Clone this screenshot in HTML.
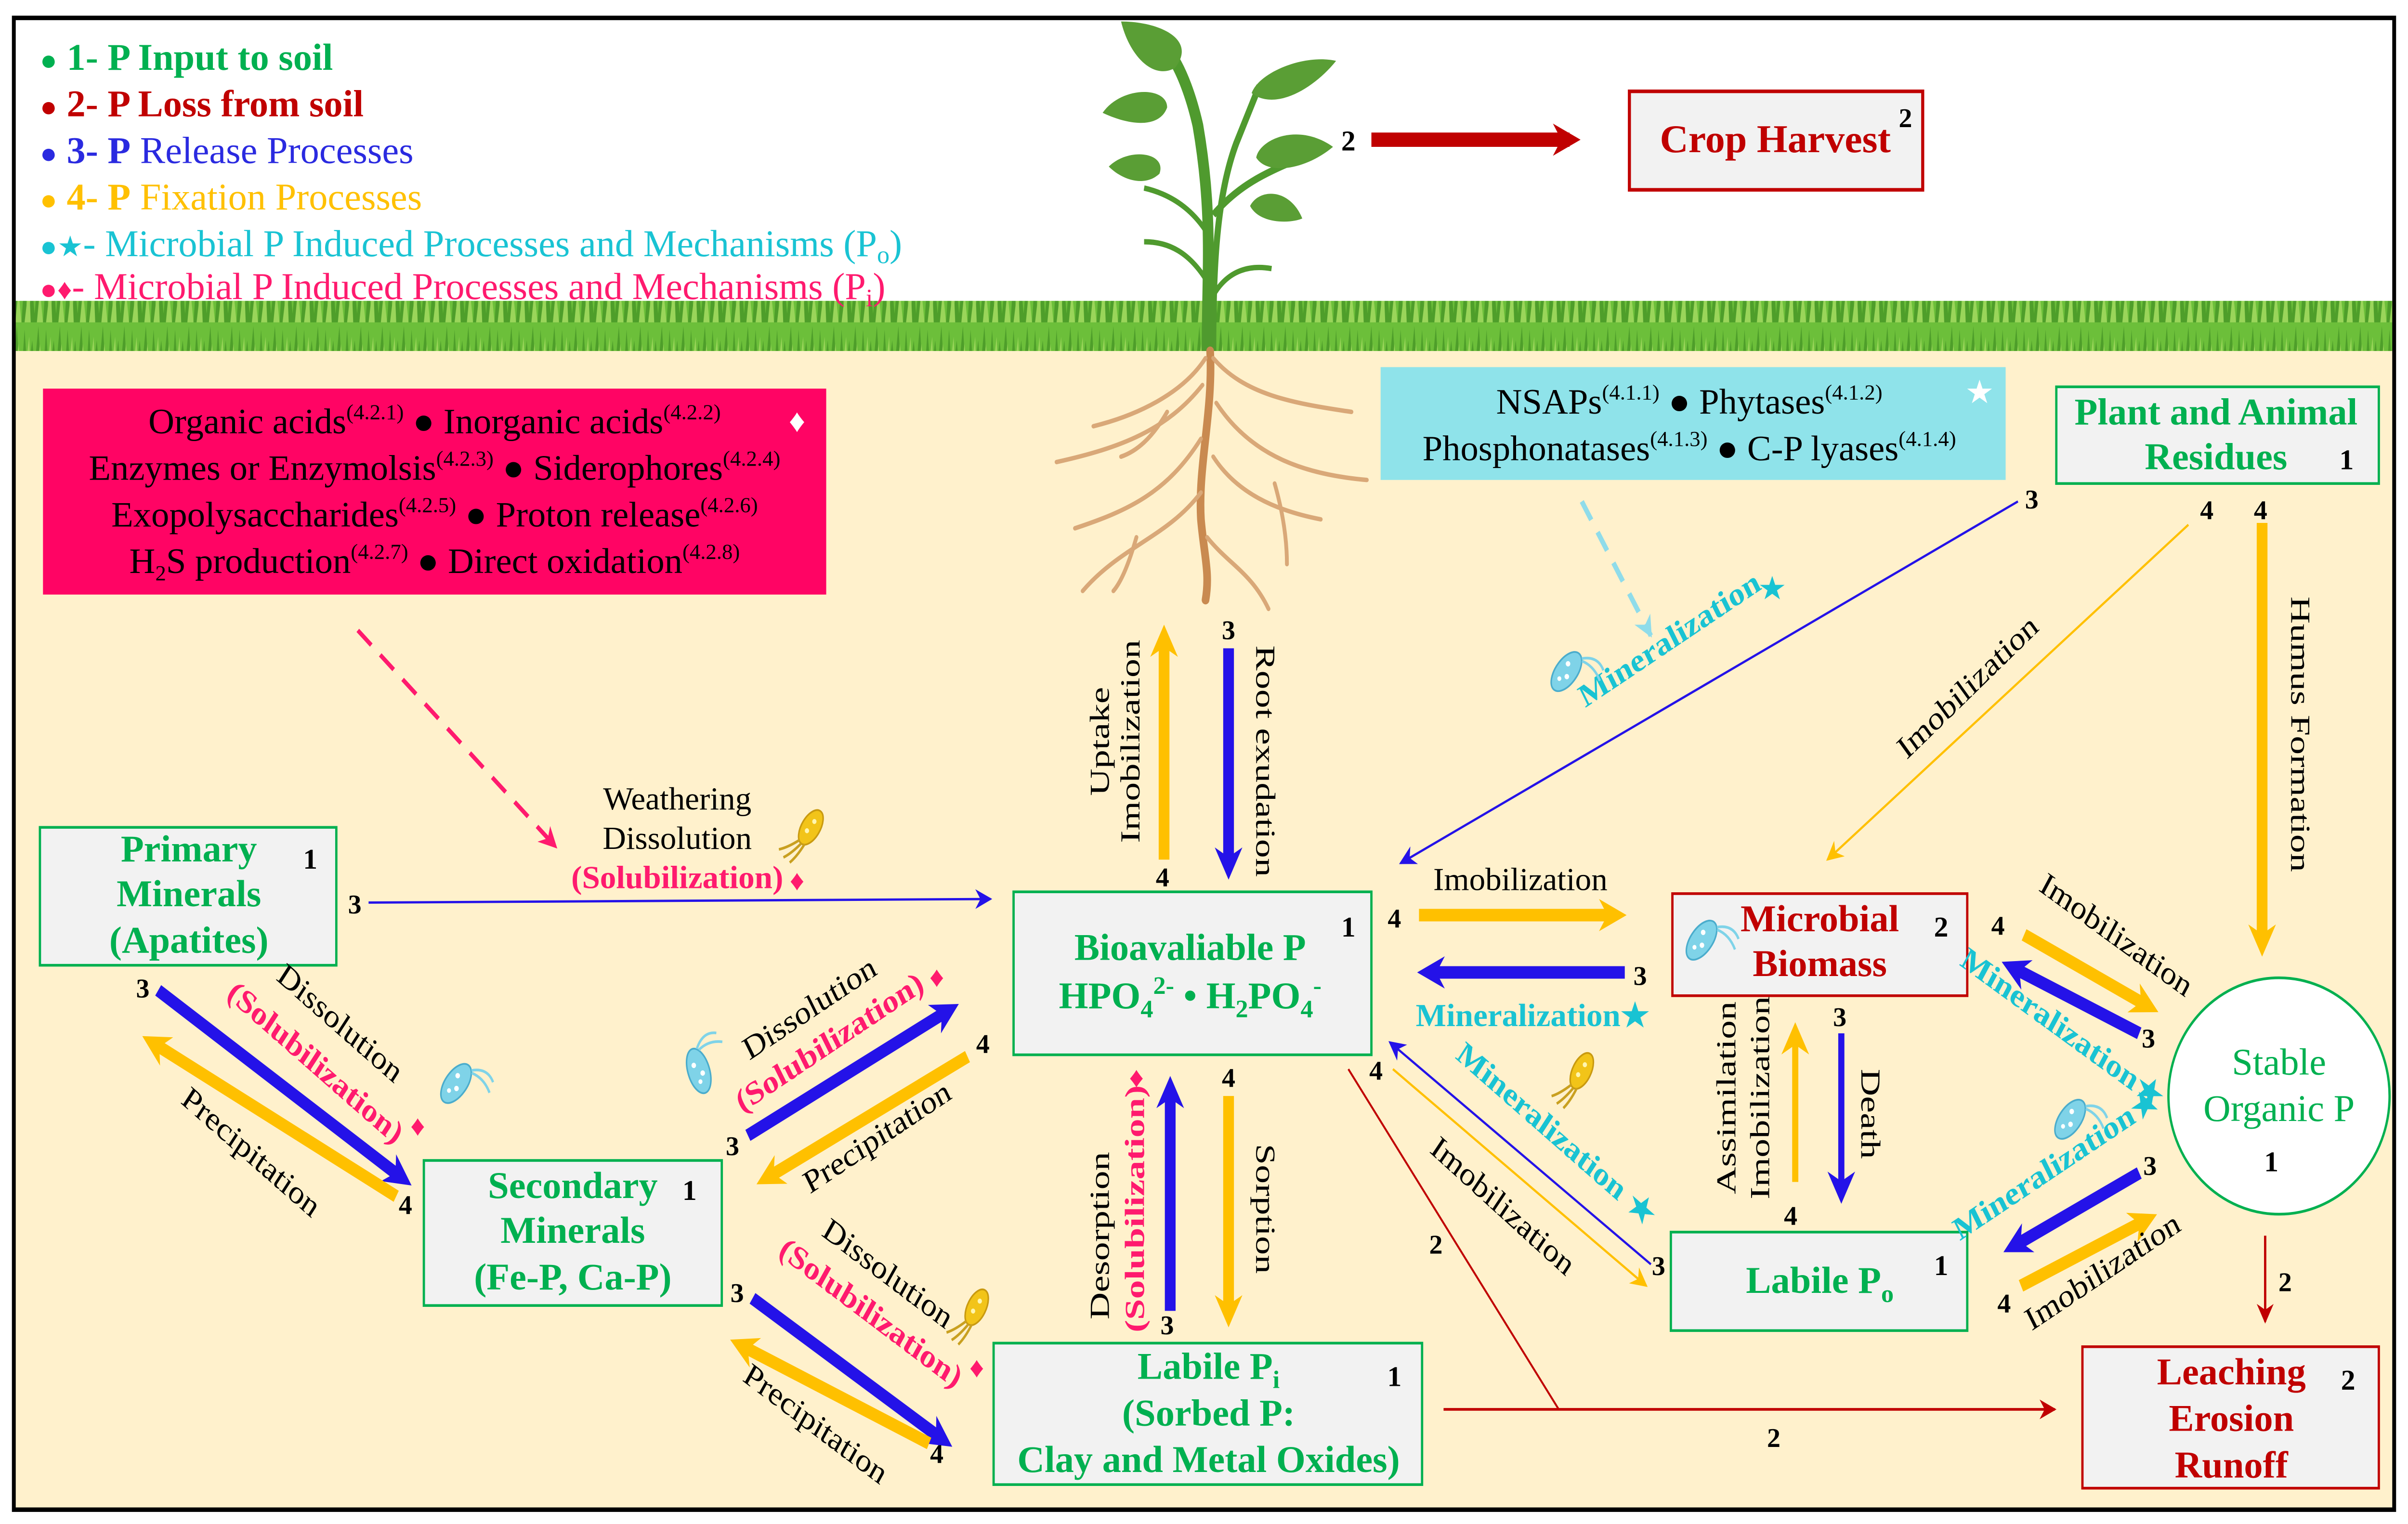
<!DOCTYPE html>
<html><head><meta charset="utf-8"><style>
html,body{margin:0;padding:0;background:#fff;width:100%;height:100%;overflow:hidden}
svg{display:block;position:fixed;left:0;top:0;width:100vw;height:100vh;overflow:hidden}
text{font-family:"Liberation Serif",serif;transform-box:fill-box;transform-origin:center;transform:scaleX(1.17)}
text.l{transform-origin:left center}
.b{font-weight:bold}
</style></head><body>
<svg viewBox="0 0 1568 851" preserveAspectRatio="none" xmlns="http://www.w3.org/2000/svg">
<defs>
<marker id="my" viewBox="0 0 10 10" refX="6" refY="5" markerWidth="18" markerHeight="18" markerUnits="userSpaceOnUse" orient="auto"><path d="M0,0L10,5L0,10L3,5Z" fill="#ffc000"/></marker>
<marker id="mb" viewBox="0 0 10 10" refX="6" refY="5" markerWidth="18" markerHeight="18" markerUnits="userSpaceOnUse" orient="auto"><path d="M0,0L10,5L0,10L3,5Z" fill="#2412e8"/></marker>
<marker id="mr" viewBox="0 0 10 10" refX="6" refY="5" markerWidth="18" markerHeight="18" markerUnits="userSpaceOnUse" orient="auto"><path d="M0,0L10,5L0,10L3,5Z" fill="#c00000"/></marker>
<marker id="ty" viewBox="0 0 10 10" refX="9" refY="5" markerWidth="11" markerHeight="11" markerUnits="userSpaceOnUse" orient="auto"><path d="M0,0L10,5L0,10L3,5Z" fill="#ffc000"/></marker>
<marker id="tb" viewBox="0 0 10 10" refX="9" refY="5" markerWidth="11" markerHeight="11" markerUnits="userSpaceOnUse" orient="auto"><path d="M0,0L10,5L0,10L3,5Z" fill="#2412e8"/></marker>
<marker id="tr" viewBox="0 0 10 10" refX="9" refY="5" markerWidth="11" markerHeight="11" markerUnits="userSpaceOnUse" orient="auto"><path d="M0,0L10,5L0,10L3,5Z" fill="#c00000"/></marker>
<marker id="tp" viewBox="0 0 10 10" refX="9" refY="5" markerWidth="12" markerHeight="12" markerUnits="userSpaceOnUse" orient="auto"><path d="M0,0L10,5L0,10L3,5Z" fill="#ff1a6e"/></marker>
<marker id="tc" viewBox="0 0 10 10" refX="9" refY="5" markerWidth="12" markerHeight="12" markerUnits="userSpaceOnUse" orient="auto"><path d="M0,0L10,5L0,10L3,5Z" fill="#8fdcea"/></marker>
<pattern id="grass" width="14" height="30" patternUnits="userSpaceOnUse">
<rect width="14" height="30" fill="#6cbf3a"/>
<path d="M0,30L2,4L4,30Z M4,30L7,10L9,30Z M8,30L11,2L13,30Z" fill="#4e9e2a"/>
<path d="M2,30L5,8L6,30Z M10,30L12,12L14,30Z" fill="#9ad55a"/>
</pattern>
<g id="bugc"><ellipse cx="0" cy="0" rx="7" ry="13" fill="#7fd3e8" stroke="#4aaccc" stroke-width="1"/><circle cx="-2" cy="-4" r="1.5" fill="#fff"/><circle cx="2" cy="2" r="1.5" fill="#fff"/><circle cx="-1" cy="6" r="1.3" fill="#fff"/><path d="M3,-12 Q10,-20 18,-16 M4,-11 Q12,-14 20,-10" stroke="#7fd3e8" stroke-width="1.5" fill="none"/></g>
<g id="bugy"><ellipse cx="0" cy="0" rx="6" ry="11" fill="#f2c419" stroke="#c99a10" stroke-width="1"/><circle cx="0" cy="-4" r="1.4" fill="#fff6b0"/><circle cx="-1" cy="3" r="1.4" fill="#fff6b0"/><path d="M-2,10 Q-6,18 -10,22 M0,11 Q-2,19 -5,24 M2,10 Q2,18 0,24" stroke="#c9a020" stroke-width="1.5" fill="none"/></g>
</defs>

<rect x="0" y="0" width="1568" height="851" fill="#fff"/>
<rect x="9" y="190" width="1550" height="653" fill="#fff1cc"/>
<rect x="9" y="168" width="1550" height="28" fill="url(#grass)"/>
<rect x="9" y="10" width="1550" height="833" fill="none" stroke="#000" stroke-width="2.5"/>

<g font-size="21">
<text class="l b" x="26" y="39" fill="#00b050"><tspan font-size="16">●</tspan> 1- P Input to soil</text>
<text class="l b" x="26" y="65" fill="#c00000"><tspan font-size="16">●</tspan> 2- P Loss from soil</text>
<text class="l" x="26" y="91" fill="#2a2ae0"><tspan font-size="16" font-weight="bold">●</tspan> <tspan font-weight="bold">3- P</tspan> Release Processes</text>
<text class="l" x="26" y="117" fill="#ffc000"><tspan font-size="16" font-weight="bold">●</tspan> <tspan font-weight="bold">4- P</tspan> Fixation Processes</text>
<text class="l" x="26" y="143" fill="#19c3d3"><tspan font-size="16">●★</tspan>- Microbial P Induced Processes and Mechanisms (P<tspan font-size="14" dy="4">o</tspan><tspan dy="-4">)</tspan></text>
<text class="l" x="26" y="167" fill="#ff1a6e"><tspan font-size="16">●♦</tspan>- Microbial P Induced Processes and Mechanisms (P<tspan font-size="14" dy="4">i</tspan><tspan dy="-4">)</tspan></text>
</g>

<g>
<path d="M786,196 C786,150 790,120 780,70 C776,55 770,40 762,30" stroke="#4f9a2e" stroke-width="7" fill="none"/>
<path d="M790,196 C790,150 792,110 805,80 L820,48" stroke="#4f9a2e" stroke-width="4" fill="none"/>
<path d="M790,120 C810,100 830,95 855,85" stroke="#4f9a2e" stroke-width="4" fill="none"/>
<path d="M786,130 C775,115 760,108 745,105" stroke="#4f9a2e" stroke-width="3" fill="none"/>
<path d="M788,160 C775,140 760,135 745,135" stroke="#4f9a2e" stroke-width="3" fill="none"/>
<path d="M790,165 C800,150 815,148 828,150" stroke="#4f9a2e" stroke-width="3" fill="none"/>
<g fill="#5a9e35">
<path d="M730,12 C755,12 780,22 765,38 C750,45 735,30 730,12Z"/>
<path d="M870,34 C850,30 820,40 815,52 C830,62 855,50 870,34Z"/>
<path d="M718,63 C730,48 760,48 760,60 C755,72 735,70 718,63Z"/>
<path d="M868,82 C845,68 820,78 818,88 C825,98 850,95 868,82Z"/>
<path d="M722,93 C735,82 760,85 755,97 C745,105 730,100 722,93Z"/>
<path d="M848,122 C840,105 820,105 814,115 C820,125 840,125 848,122Z"/>
</g>
</g>
<g stroke="#d9a878" stroke-width="2.5" fill="none" stroke-linecap="round">
<path d="M788,196 C790,230 780,260 782,290 C784,310 788,320 785,335" stroke="#c98a50" stroke-width="5"/>
<path d="M785,200 C770,220 740,232 712,238"/>
<path d="M783,215 C760,240 730,250 688,258"/>
<path d="M782,245 C760,275 735,285 700,295"/>
<path d="M782,275 C760,300 730,305 705,330"/>
<path d="M790,200 C810,220 840,225 880,230"/>
<path d="M792,225 C815,255 850,265 890,268"/>
<path d="M790,255 C805,275 830,285 860,290"/>
<path d="M786,300 C800,315 815,320 826,340"/>
<path d="M760,230 C750,245 740,252 730,255"/>
<path d="M830,270 C835,285 838,300 838,315"/>
<path d="M740,300 C735,315 730,325 725,330"/>
</g>

<text x="878" y="84" font-size="16" class="b" text-anchor="middle">2</text>
<line x1="893" y1="78" x2="1022" y2="78" stroke="#c00000" stroke-width="8" marker-end="url(#mr)"/>
<rect x="1061" y="51" width="191" height="55" fill="#f2f2f2" stroke="#c00000" stroke-width="2"/>
<text x="1156" y="85" font-size="22" class="b" fill="#c00000" text-anchor="middle">Crop Harvest</text>
<text x="1237" y="71" font-size="15" class="b">2</text>

<rect x="28" y="217" width="510" height="115" fill="#ff0464"/>
<g font-size="20" text-anchor="middle" fill="#000">
<text x="283" y="242">Organic acids<tspan font-size="12" dy="-8">(4.2.1)</tspan><tspan dy="8"> ● Inorganic acids</tspan><tspan font-size="12" dy="-8">(4.2.2)</tspan></text>
<text x="283" y="268">Enzymes or Enzymolsis<tspan font-size="12" dy="-8">(4.2.3)</tspan><tspan dy="8"> ● Siderophores</tspan><tspan font-size="12" dy="-8">(4.2.4)</tspan></text>
<text x="283" y="294">Exopolysaccharides<tspan font-size="12" dy="-8">(4.2.5)</tspan><tspan dy="8">  ● Proton release</tspan><tspan font-size="12" dy="-8">(4.2.6)</tspan></text>
<text x="283" y="320">H<tspan font-size="12" dy="4">2</tspan><tspan dy="-4">S production</tspan><tspan font-size="12" dy="-8">(4.2.7)</tspan><tspan dy="8">  ● Direct oxidation</tspan><tspan font-size="12" dy="-8">(4.2.8)</tspan></text>
</g>
<text x="519" y="241" font-size="18" fill="#fff" text-anchor="middle">♦</text>

<rect x="899" y="205" width="407" height="63" fill="#8fe3ea"/>
<g font-size="20" text-anchor="middle">
<text x="1100" y="231">NSAPs<tspan font-size="12" dy="-8">(4.1.1)</tspan><tspan dy="8"> ● Phytases</tspan><tspan font-size="12" dy="-8">(4.1.2)</tspan></text>
<text x="1100" y="257">Phosphonatases<tspan font-size="12" dy="-8">(4.1.3)</tspan><tspan dy="8"> ● C-P lyases</tspan><tspan font-size="12" dy="-8">(4.1.4)</tspan></text>
</g>
<text x="1289" y="225" font-size="18" fill="#fff" text-anchor="middle">★</text>

<g stroke="#00b050" stroke-width="1.5" fill="#f2f2f2">
<rect x="1339" y="216" width="210" height="54"/>
<rect x="26" y="462" width="193" height="77"/>
<rect x="660" y="498" width="233" height="91"/>
<rect x="276" y="648" width="194" height="81"/>
<rect x="647" y="750" width="279" height="79"/>
<rect x="1088" y="688" width="193" height="55"/>
<ellipse cx="1484" cy="612" rx="72" ry="66" fill="#fff"/>
</g>
<g stroke="#c00000" stroke-width="1.5" fill="#f2f2f2">
<rect x="1089" y="499" width="192" height="57"/>
<rect x="1356" y="752" width="193" height="79"/>
</g>

<g font-size="21" class="b" fill="#00b050" text-anchor="middle">
<text x="1443" y="237">Plant and Animal</text>
<text x="1443" y="262">Residues</text>
<text x="123" y="481">Primary</text>
<text x="123" y="506">Minerals</text>
<text x="123" y="532">(Apatites)</text>
<text x="775" y="536">Bioavaliable P</text>
<text x="775" y="563">HPO<tspan font-size="14" dy="5">4</tspan><tspan font-size="14" dy="-13">2-</tspan><tspan dy="8"> • H</tspan><tspan font-size="14" dy="5">2</tspan><tspan dy="-5">PO</tspan><tspan font-size="14" dy="5">4</tspan><tspan font-size="14" dy="-13">-</tspan></text>
<text x="373" y="669">Secondary</text>
<text x="373" y="694">Minerals</text>
<text x="373" y="720">(Fe-P, Ca-P)</text>
<text x="787" y="770">Labile P<tspan font-size="14" dy="5">i</tspan></text>
<text x="787" y="796">(Sorbed P:</text>
<text x="787" y="822">Clay and Metal Oxides)</text>
<text x="1185" y="722">Labile P<tspan font-size="14" dy="5">o</tspan></text>
</g>
<g font-size="21" fill="#00b050" text-anchor="middle">
<text x="1484" y="600">Stable</text>
<text x="1484" y="626">Organic P</text>
</g>
<g font-size="21" class="b" fill="#c00000" text-anchor="middle">
<text x="1185" y="520">Microbial</text>
<text x="1185" y="545">Biomass</text>
<text x="1453" y="773">Leaching</text>
<text x="1453" y="799">Erosion</text>
<text x="1453" y="825">Runoff</text>
</g>
<g font-size="16" class="b" text-anchor="middle">
<text x="1528" y="262">1</text>
<text x="202" y="485">1</text>
<text x="878" y="523">1</text>
<text x="449" y="670">1</text>
<text x="908" y="774">1</text>
<text x="1264" y="712">1</text>
<text x="1479" y="654">1</text>
<text x="1264" y="523">2</text>
<text x="1529" y="776">2</text>
</g>

<line x1="240" y1="504" x2="645" y2="502" stroke="#2412e8" stroke-width="1.3" marker-end="url(#tb)"/>
<line x1="233" y1="352" x2="362" y2="473" stroke="#ff1a6e" stroke-width="2.5" stroke-dasharray="12,8" marker-end="url(#tp)"/>
<line x1="1030" y1="280" x2="1075" y2="355" stroke="#8fdcea" stroke-width="3" stroke-dasharray="12,8" marker-end="url(#tc)"/>
<line x1="1314" y1="280" x2="912" y2="482" stroke="#2412e8" stroke-width="1.3" marker-end="url(#tb)"/>
<line x1="1425" y1="293" x2="1190" y2="480" stroke="#ffc000" stroke-width="1.3" marker-end="url(#ty)"/>
<line x1="1075" y1="706" x2="905" y2="582" stroke="#2412e8" stroke-width="1.3" marker-end="url(#tb)"/>
<line x1="907" y1="597" x2="1072" y2="718" stroke="#ffc000" stroke-width="1.3" marker-end="url(#ty)"/>
<polyline points="878,597 1015,787" stroke="#c00000" stroke-width="1.2" fill="none"/>
<line x1="940" y1="787" x2="1338" y2="787" stroke="#c00000" stroke-width="1.5" marker-end="url(#tr)"/>
<line x1="1475" y1="690" x2="1475" y2="738" stroke="#c00000" stroke-width="1.5" marker-end="url(#tr)"/>

<g stroke-width="7">
<line x1="758" y1="480" x2="758" y2="356" stroke="#ffc000" marker-end="url(#my)"/>
<line x1="800" y1="362" x2="800" y2="484" stroke="#2412e8" marker-end="url(#mb)"/>
<line x1="1473" y1="292" x2="1473" y2="527" stroke="#ffc000" marker-end="url(#my)"/>
<line x1="924" y1="511" x2="1052" y2="511" stroke="#ffc000" marker-end="url(#my)"/>
<line x1="1058" y1="543" x2="930" y2="543" stroke="#2412e8" marker-end="url(#mb)"/>
<line x1="1169" y1="660" x2="1169" y2="578" stroke="#ffc000" stroke-width="4" marker-end="url(#my)"/>
<line x1="1199" y1="577" x2="1199" y2="665" stroke="#2412e8" stroke-width="4" marker-end="url(#mb)"/>
<line x1="1318" y1="522" x2="1399" y2="562" stroke="#ffc000" marker-end="url(#my)"/>
<line x1="1393" y1="577" x2="1310" y2="540" stroke="#2412e8" marker-end="url(#mb)"/>
<line x1="1393" y1="655" x2="1311" y2="696" stroke="#2412e8" marker-end="url(#mb)"/>
<line x1="1316" y1="718" x2="1398" y2="681" stroke="#ffc000" marker-end="url(#my)"/>
<line x1="762" y1="732" x2="762" y2="608" stroke="#2412e8" marker-end="url(#mb)"/>
<line x1="800" y1="612" x2="800" y2="734" stroke="#ffc000" marker-end="url(#my)"/>
<line x1="103" y1="553" x2="262" y2="658" stroke="#2412e8" marker-end="url(#mb)"/>
<line x1="258" y1="668" x2="99" y2="582" stroke="#ffc000" marker-end="url(#my)"/>
<line x1="487" y1="634" x2="618" y2="564" stroke="#2412e8" marker-end="url(#mb)"/>
<line x1="630" y1="590" x2="499" y2="658" stroke="#ffc000" marker-end="url(#my)"/>
<line x1="490" y1="725" x2="614" y2="804" stroke="#2412e8" marker-end="url(#mb)"/>
<line x1="605" y1="806" x2="482" y2="751" stroke="#ffc000" marker-end="url(#my)"/>
</g>

<g font-size="15" class="b" text-anchor="middle">
<text x="231" y="510">3</text>
<text x="800" y="357">3</text><text x="757" y="495">4</text>
<text x="1323" y="284">3</text><text x="1437" y="290">4</text><text x="1472" y="290">4</text>
<text x="908" y="518">4</text><text x="1068" y="550">3</text>
<text x="896" y="603">4</text><text x="1080" y="712">3</text>
<text x="935" y="700">2</text><text x="1155" y="808">2</text>
<text x="1198" y="573">3</text><text x="1166" y="684">4</text>
<text x="1301" y="522">4</text><text x="1399" y="585">3</text>
<text x="1400" y="656">3</text><text x="1305" y="733">4</text>
<text x="1488" y="721">2</text>
<text x="800" y="607">4</text><text x="760" y="745">3</text>
<text x="93" y="557">3</text><text x="264" y="678">4</text>
<text x="640" y="588">4</text><text x="477" y="645">3</text>
<text x="480" y="727">3</text><text x="610" y="817">4</text>
</g>

<g font-size="18" text-anchor="middle">
<text x="441" y="452">Weathering</text>
<text x="441" y="474">Dissolution</text>
<text x="990" y="497">Imobilization</text>
<g transform="translate(722,414) rotate(-90)"><text>Uptake</text></g>
<g transform="translate(742,414) rotate(-90)"><text>Imobilization</text></g>
<g transform="translate(818,425) rotate(90)"><text>Root exudation</text></g>
<g transform="translate(1285,388) rotate(-40)"><text>Imobilization</text></g>
<g transform="translate(1492,410) rotate(90)"><text>Humus Formation</text></g>
<g transform="translate(975,678) rotate(38)"><text>Imobilization</text></g>
<g transform="translate(1130,613) rotate(-90)"><text>Assimilation</text></g>
<g transform="translate(1152,613) rotate(-90)"><text>Imobilization</text></g>
<g transform="translate(1212,622) rotate(90)"><text>Death</text></g>
<g transform="translate(1375,527) rotate(32)"><text>Imobilization</text></g>
<g transform="translate(1372,715) rotate(-30)"><text>Imobilization</text></g>
<g transform="translate(722,690) rotate(-90)"><text>Desorption</text></g>
<g transform="translate(818,675) rotate(90)"><text>Sorption</text></g>
<g transform="translate(218,576) rotate(37)"><text>Dissolution</text></g>
<g transform="translate(160,648) rotate(37)"><text>Precipitation</text></g>
<g transform="translate(530,568) rotate(-30)"><text>Dissolution</text></g>
<g transform="translate(574,640) rotate(-30)"><text>Precipitation</text></g>
<g transform="translate(575,716) rotate(33)"><text>Dissolution</text></g>
<g transform="translate(528,800) rotate(33)"><text>Precipitation</text></g>
</g>
<g font-size="18" class="b" fill="#ff1a6e" text-anchor="middle">
<text x="441" y="496">(Solubilization)</text>
<g transform="translate(202,598) rotate(37)"><text>(Solubilization)</text></g>
<g transform="translate(543,587) rotate(-30)"><text>(Solubilization)</text></g>
<g transform="translate(564,738) rotate(33)"><text>(Solubilization)</text></g>
<g transform="translate(745,675) rotate(-90)"><text>(Solubilization)</text></g>
</g>
<g font-size="16" fill="#ff1a6e" text-anchor="middle">
<text x="519" y="497">♦</text>
<text x="272" y="634">♦</text>
<text x="610" y="551">♦</text>
<text x="636" y="769">♦</text>
<text x="740" y="607">♦</text>
</g>
<g font-size="18" class="b" fill="#19c3d3" text-anchor="middle">
<g transform="translate(1090,362) rotate(-30)"><text>Mineralization</text></g>
<text x="1154" y="334" font-size="16">★</text>
<text x="998" y="573">Mineralization★</text>
<g transform="translate(1010,638) rotate(37)"><text>Mineralization ★</text></g>
<g transform="translate(1340,579) rotate(32)"><text>Mineralization★</text></g>
<g transform="translate(1342,655) rotate(-30)"><text>Mineralization★</text></g>
</g>

<use href="#bugy" transform="translate(528,462) rotate(35)"/>
<use href="#bugc" transform="translate(297,605) rotate(40)"/>
<use href="#bugc" transform="translate(455,598) rotate(-20)"/>
<use href="#bugy" transform="translate(636,730) rotate(30)"/>
<use href="#bugc" transform="translate(1020,375) rotate(40)"/>
<use href="#bugc" transform="translate(1108,525) rotate(40)"/>
<use href="#bugy" transform="translate(1030,598) rotate(30)"/>
<use href="#bugc" transform="translate(1348,625) rotate(40)"/>
</svg>
</body></html>
